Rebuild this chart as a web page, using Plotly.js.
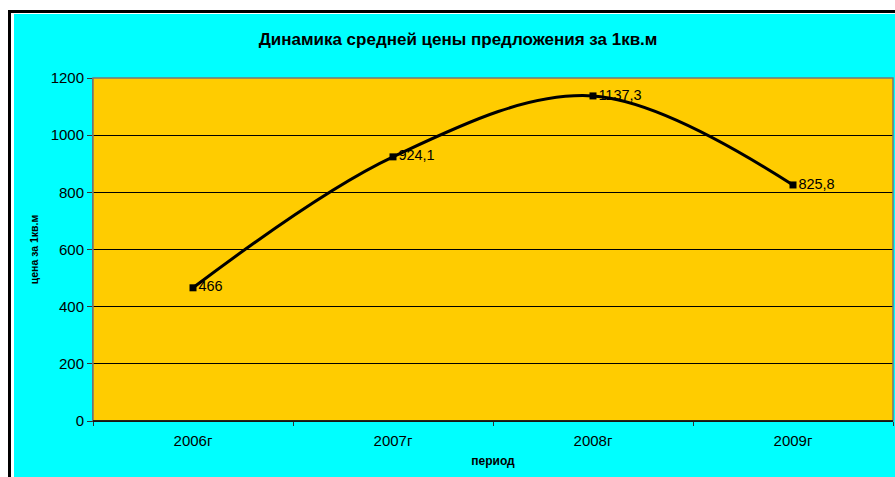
<!DOCTYPE html>
<html><head><meta charset="utf-8">
<script src="https://cdn.plot.ly/plotly-3.0.1.min.js"></script>
<style>
html,body{margin:0;padding:0;background:#fff;width:895px;height:477px;overflow:hidden;}
#frame{position:absolute;left:8px;top:10px;width:900px;height:480px;border-left:3px solid #000;border-top:3px solid #000;background:#fff;}
#chart{position:absolute;left:14px;top:14px;width:881px;height:463px;}
</style></head>
<body>
<div id="frame"></div>
<div id="chart"></div>
<script>
const categories = ["2006г", "2007г", "2008г", "2009г"];
const values = [466, 924.1, 1137.3, 825.8];
const valueLabels = ["466", "924,1", "1137,3", "825,8"];
const yTicks = [0, 200, 400, 600, 800, 1000, 1200];

const trace = {
  x: categories, y: values, text: valueLabels,
  type: 'scatter', mode: 'lines+markers+text',
  line: {shape: 'spline', smoothing: 1, color: '#000', width: 3},
  marker: {symbol: 'square', size: 7, color: '#000'},
  textposition: 'middle right',
  textfont: {family: 'Liberation Sans, Arial', size: 14.5, color: '#000'},
  cliponaxis: false, hoverinfo: 'none'
};

const layout = {
  width: 881, height: 463,
  margin: {l: 79, r: 2, t: 64, b: 56},
  paper_bgcolor: '#00FFFF', plot_bgcolor: '#FFCC00',
  showlegend: false,
  font: {family: 'Liberation Sans, Arial', size: 15, color: '#000'},
  title: {text: 'Динамика средней цены предложения за 1кв.м', x: 0.504, xanchor: 'center', xref: 'container',
          y: 0.946, yanchor: 'middle', yref: 'container',
          font: {family: 'Liberation Sans, Arial', size: 17, color: '#000', weight: 'bold'}},
  xaxis: {
    type: 'category', range: [-0.5, 3.5], tickson: 'boundaries', ticks: 'outside', ticklen: 4, tickcolor: '#333',
    showgrid: false, showline: true, linecolor: '#000', linewidth: 1, zeroline: false,
    tickfont: {size: 15}, ticklabelstandoff: 6,
    title: {text: 'период', standoff: 8, font: {size: 12, weight: 'bold'}},
    fixedrange: true
  },
  yaxis: {
    range: [0, 1200], tickvals: yTicks, ticktext: yTicks.map(String),
    ticks: 'outside', ticklen: 5, tickcolor: '#333',
    showgrid: true, gridcolor: '#000', gridwidth: 1, zeroline: false,
    showline: true, linecolor: '#666', linewidth: 1,
    tickfont: {size: 15},
    title: {text: 'цена за 1кв.м', standoff: 9, font: {size: 10.5, weight: 'bold'}},
    fixedrange: true
  },
  shapes: [
    {type: 'rect', xref: 'paper', yref: 'paper', x0: 0, x1: 1, y0: 0, y1: 1, line: {color: '#777', width: 1.5}, layer: 'above'},
    {type: 'line', xref: 'paper', yref: 'paper', x0: 0, x1: 1, y0: 0, y1: 0, line: {color: '#000', width: 1.5}, layer: 'above'}
  ]
};

Plotly.newPlot('chart', [trace], layout, {displayModeBar: false, staticPlot: true});
</script>
</body></html>
